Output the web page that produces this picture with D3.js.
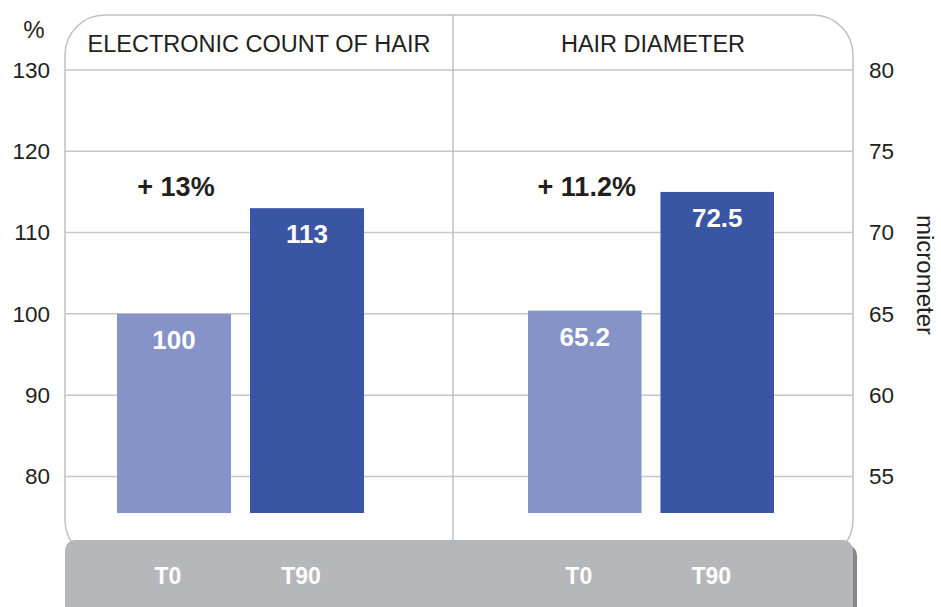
<!DOCTYPE html>
<html>
<head>
<meta charset="utf-8">
<script src="https://cdn.jsdelivr.net/npm/d3@7"></script>
<style>
  body { margin: 0; background: #fff; }
  svg text { font-family: "Liberation Sans", Arial, Helvetica, sans-serif; }
</style>
</head>
<body>
<div id="chart"></div>
<script>
// data
var periods = ["T0", "T90"];
var panelTitles = ["ELECTRONIC COUNT OF HAIR", "HAIR DIAMETER"];
var hairCount = [100, 113];          // %
var hairDiameter = [65.2, 72.5];     // micrometer
var gains = ["+ 13%", "+ 11.2%"];
var leftTicks = [80, 90, 100, 110, 120, 130];
var rightTicks = [55, 60, 65, 70, 75, 80];

var W = 941, H = 607;
var PANEL = {x0: 65, x1: 853, top: 15, bottom: 540, r: 40};
var MID = 453;
var BAR_BASE = 513;

var svg = d3.select("#chart")
  .append("svg")
  .attr("width", W)
  .attr("height", H);

var yLeft = d3.scaleLinear().domain([75.5, 130]).range([BAR_BASE, 70]);
var yRight = d3.scaleLinear().domain([52.75, 80]).range([BAR_BASE, 70]);

var xLeft = d3.scaleBand().domain(periods).range([117, 364]).paddingInner(0.143);
var xRight = d3.scaleBand().domain(periods).range([528, 774]).paddingInner(0.143);

var colors = ["#8593c8", "#3a55a4"];

// panel outline
svg.append("rect")
  .attr("x", PANEL.x0).attr("y", PANEL.top)
  .attr("width", PANEL.x1 - PANEL.x0)
  .attr("height", PANEL.bottom - PANEL.top + 20)
  .attr("rx", PANEL.r).attr("ry", PANEL.r)
  .attr("fill", "#fff")
  .attr("stroke", "#bfc0c5")
  .attr("stroke-width", 1.5);

// gridlines (left scale drives them, right scale shares the lines)
svg.append("g").selectAll("line")
  .data(leftTicks)
  .enter().append("line")
  .attr("x1", PANEL.x0).attr("x2", PANEL.x1)
  .attr("y1", function(d) { return yLeft(d); })
  .attr("y2", function(d) { return yLeft(d); })
  .attr("stroke", "#c6c6cb")
  .attr("stroke-width", 1.5);

// divider
svg.append("line")
  .attr("x1", MID).attr("x2", MID)
  .attr("y1", PANEL.top).attr("y2", PANEL.bottom)
  .attr("stroke", "#bfc0c5")
  .attr("stroke-width", 1.5);

// left axis
var axL = svg.append("g")
  .attr("transform", "translate(50,0)")
  .call(d3.axisLeft(yLeft).tickValues(leftTicks).tickSize(0).tickPadding(0));
axL.select(".domain").remove();
axL.selectAll("text")
  .attr("font-size", 22.5).attr("fill", "#231f20")
  .attr("font-family", "Liberation Sans, Arial, sans-serif");

// right axis
var axR = svg.append("g")
  .attr("transform", "translate(869,0)")
  .call(d3.axisRight(yRight).tickValues(rightTicks).tickSize(0).tickPadding(0));
axR.select(".domain").remove();
axR.selectAll("text")
  .attr("font-size", 22.5).attr("fill", "#231f20")
  .attr("font-family", "Liberation Sans, Arial, sans-serif");

svg.append("text")
  .attr("x", 34).attr("y", 38)
  .attr("text-anchor", "middle")
  .attr("font-size", 24).attr("fill", "#231f20")
  .text("%");

svg.append("text")
  .attr("transform", "translate(917,275) rotate(90)")
  .attr("text-anchor", "middle")
  .attr("font-size", 24).attr("fill", "#231f20")
  .text("micrometer");

// panel titles
svg.selectAll(".panel-title")
  .data(panelTitles)
  .enter().append("text")
  .attr("class", "panel-title")
  .attr("x", function(d, i) { return i === 0 ? (PANEL.x0 + MID) / 2 : (MID + PANEL.x1) / 2; })
  .attr("y", 52)
  .attr("text-anchor", "middle")
  .attr("font-size", 23.5)
  .attr("fill", "#231f20")
  .text(function(d) { return d; });

function drawBars(cls, values, x, y, fmt) {
  var g = svg.append("g").attr("class", cls);
  g.selectAll("rect")
    .data(values)
    .enter().append("rect")
    .attr("x", function(d, i) { return x(periods[i]); })
    .attr("width", x.bandwidth())
    .attr("y", function(d) { return y(d); })
    .attr("height", function(d) { return BAR_BASE - y(d); })
    .attr("fill", function(d, i) { return colors[i]; });
  g.selectAll("text")
    .data(values)
    .enter().append("text")
    .attr("x", function(d, i) { return x(periods[i]) + x.bandwidth() / 2; })
    .attr("y", function(d) { return y(d) + 35; })
    .attr("text-anchor", "middle")
    .attr("font-size", 26)
    .attr("font-weight", "bold")
    .attr("fill", "#fff")
    .text(fmt);
}

drawBars("count-bars", hairCount, xLeft, yLeft, function(d) { return d; });
drawBars("diam-bars", hairDiameter, xRight, yRight, function(d) { return d.toFixed(1); });

// gain annotations
var xs = [xLeft, xRight];
svg.selectAll(".gain")
  .data(gains)
  .enter().append("text")
  .attr("class", "gain")
  .attr("x", function(d, i) { return xs[i]("T0") + xs[i].bandwidth() / 2 + 2; })
  .attr("y", 196)
  .attr("text-anchor", "middle")
  .attr("font-size", 27)
  .attr("font-weight", "bold")
  .attr("fill", "#231f20")
  .text(function(d) { return d; });

// bottom category band
svg.append("rect")
  .attr("x", PANEL.x0 + 4).attr("y", 545)
  .attr("width", PANEL.x1 - PANEL.x0).attr("height", 80)
  .attr("rx", 10).attr("ry", 10)
  .attr("fill", "#85868b");
svg.append("rect")
  .attr("x", PANEL.x0).attr("y", 540)
  .attr("width", PANEL.x1 - PANEL.x0).attr("height", 80)
  .attr("rx", 10).attr("ry", 10)
  .attr("fill", "#b6b7bb");

xs.forEach(function(x, k) {
  svg.append("g").selectAll("text")
    .data(periods)
    .enter().append("text")
    .attr("x", function(d) { return x(d) + x.bandwidth() / 2 - 6; })
    .attr("y", 584)
    .attr("text-anchor", "middle")
    .attr("font-size", 23)
    .attr("font-weight", "bold")
    .attr("fill", "#fff")
    .text(function(d) { return d; });
});
</script>
</body>
</html>
